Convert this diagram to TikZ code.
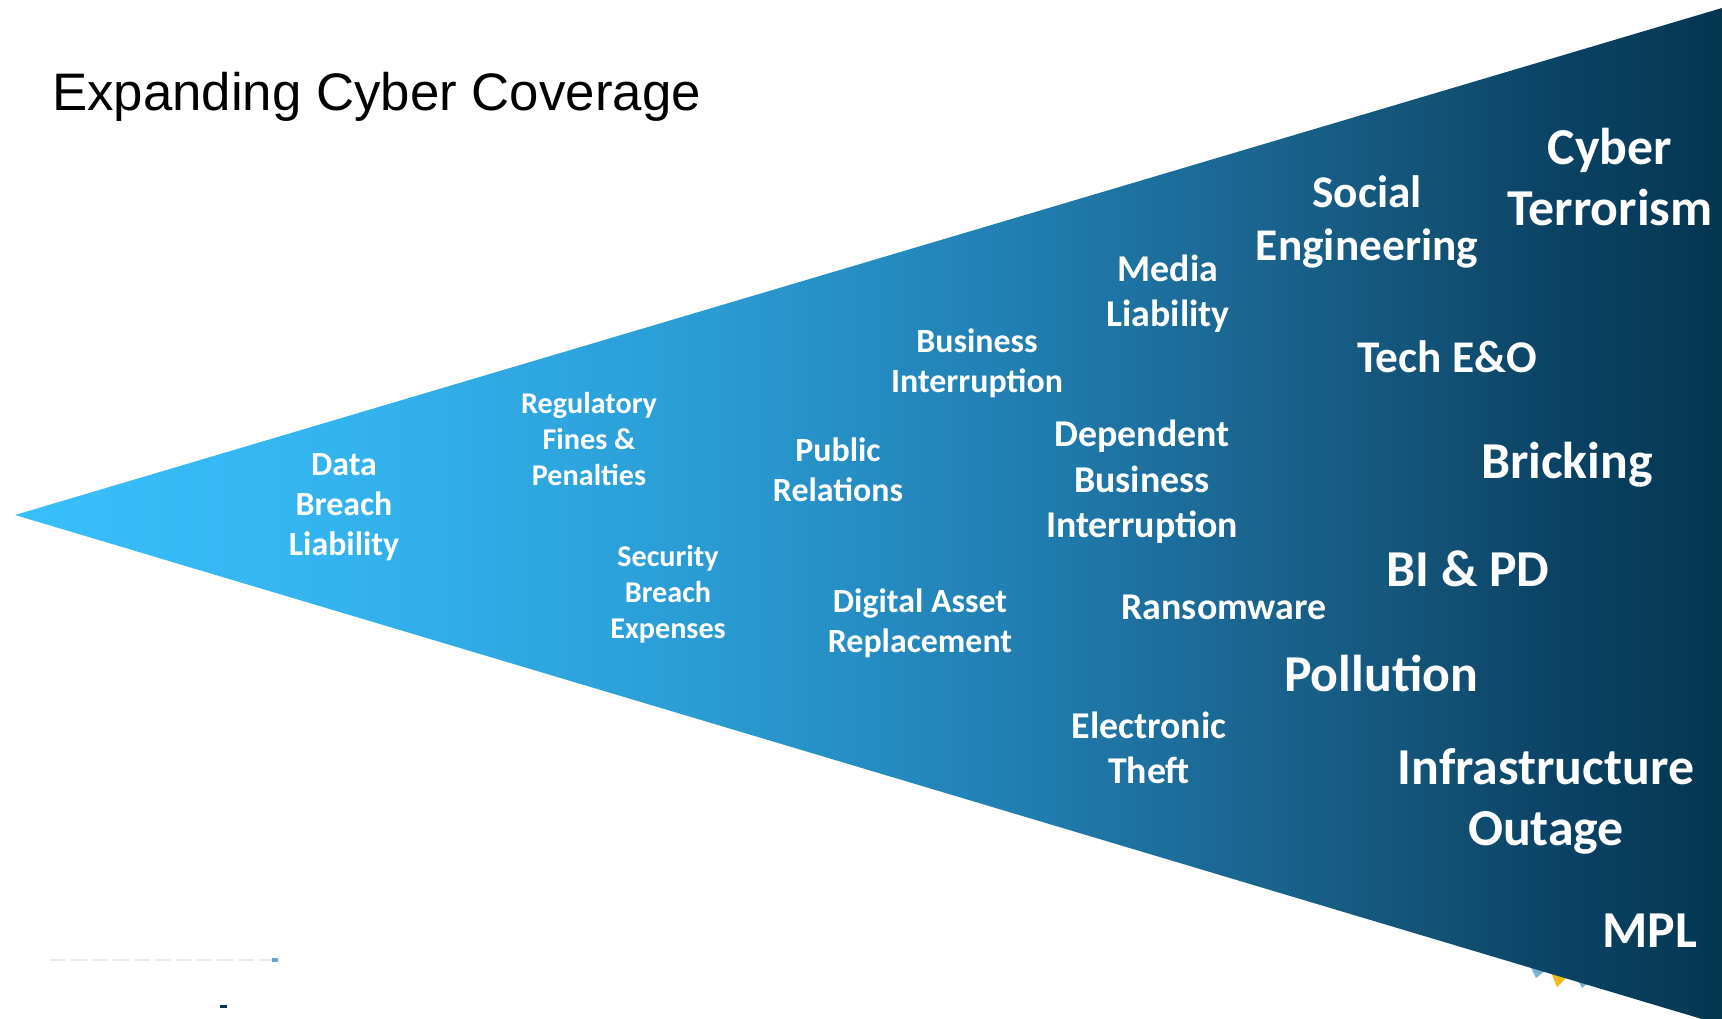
\documentclass[tikz,border=0pt]{standalone}
\usepackage{fontspec}
\setmainfont{Carlito}
\newfontfamily\headfont{Liberation Sans}
\definecolor{fan0}{HTML}{38C0FA}
\definecolor{fan1}{HTML}{33B3EE}
\definecolor{fan2}{HTML}{2A9CD4}
\definecolor{fan3}{HTML}{2180B4}
\definecolor{fan4}{HTML}{1A6590}
\definecolor{fan5}{HTML}{125074}
\definecolor{fan6}{HTML}{0B4366}
\definecolor{fan7}{HTML}{043650}
\definecolor{tick}{HTML}{F5B81C}
% light cyan at the tip, deep navy at the open end
\pgfdeclarehorizontalshading{fanshade}{100bp}{
  color(0bp)=(fan0); color(25bp)=(fan0); color(34.8bp)=(fan1); color(45.1bp)=(fan2);
  color(53.9bp)=(fan3); color(61.2bp)=(fan4); color(67bp)=(fan5); color(70bp)=(fan6);
  color(75bp)=(fan7); color(100bp)=(fan7)}
\tikzset{
  ttl/.style  ={font=\headfont\fontsize{53}{60}\selectfont, text=black, inner sep=0pt, anchor=base west},
  tag/.style  ={text=white, align=center, inner sep=0pt, anchor=center},
  tagxs/.style={tag, font=\fontsize{30.3}{36}\selectfont\bfseries},
  tags/.style ={tag, font=\fontsize{34}{40}\selectfont\bfseries},
  tagm/.style ={tag, font=\fontsize{38}{45.5}\selectfont\bfseries},
  tagl/.style ={tag, font=\fontsize{45.5}{53}\selectfont\bfseries},
  tagxl/.style={tag, font=\fontsize{52}{61}\selectfont\bfseries},
}

\begin{document}
\begin{tikzpicture}[x=1bp,y=-1bp]
  \useasboundingbox (0,0) rectangle (1722,1018);

  % ---------------------------------------------------------------- leftovers
  \draw[black!8, line width=1.2pt, dash pattern=on 16pt off 5pt] (50,960) -- (272,960);
  \fill[fan3!70] (272,958) rectangle (278,962);
  \fill[fan7] (220,1005) rectangle (227,1008);
  \fill[fan3!60] (1530,966) -- (1546,970) -- (1536,978) -- cycle;
  \fill[tick]    (1550,970) -- (1568,976) -- (1557,987) -- cycle;
  \fill[fan3!60] (1576,976) -- (1592,980) -- (1582,988) -- cycle;

  % ---------------------------------------------------------------- fan
  \coordinate (tip) at (15,515);
  \coordinate (top) at (1722,8);
  \coordinate (bot) at (1722,1025);
  \shade[shading=fanshade] (tip) -- (top) -- (bot) -- cycle;

  \node[ttl] (head) at (52,110) {Expanding Cyber Coverage};

  % ---------------------------------------------------------------- covers, near the tip
  \node[tags]  (dbl) at (344,507)  {Data\\Breach\\Liability};
  \node[tagxs] (rfp) at (589,439)  {Regulatory\\Fines \&\\Penalties};
  \node[tagxs] (sbe) at (668,594)  {Security\\Breach\\Expenses};
  \node[tags]  (pr)  at (838,470)  {Public\\Relations};
  \node[tags]  (bi)  at (977,363)  {Business\\Interruption};
  \node[tags]  (dar) at (920,623)  {Digital Asset\\Replacement};

  % ---------------------------------------------------------------- middle band
  \node[tagm]  (ml)  at (1168,294) {Media\\Liability};
  \node[tagm]  (dbi) at (1142,482) {Dependent\\Business\\Interruption};
  \node[tagm]  (rw)  at (1224,607) {Ransomware};
  \node[tagm]  (et)  at (1149,748) {Electronic\\Theft};

  % ---------------------------------------------------------------- open end
  \node[tagl]  (se)  at (1367,222) {Social\\Engineering};
  \node[tagl]  (teo) at (1447,357) {Tech E\&O};
  \node[tagxl] (ct)  at (1610,177) {Cyber\\Terrorism};
  \node[tagxl] (brk) at (1567,465) {Bricking};
  \node[tagxl] (bpd) at (1468,569) {BI \& PD};
  \node[tagxl] (pol) at (1381,673) {Pollution};
  \node[tagxl] (io)  at (1546,801) {Infrastructure\\Outage};
  \node[tagxl] (mpl) at (1650,931) {MPL};
\end{tikzpicture}
\end{document}
